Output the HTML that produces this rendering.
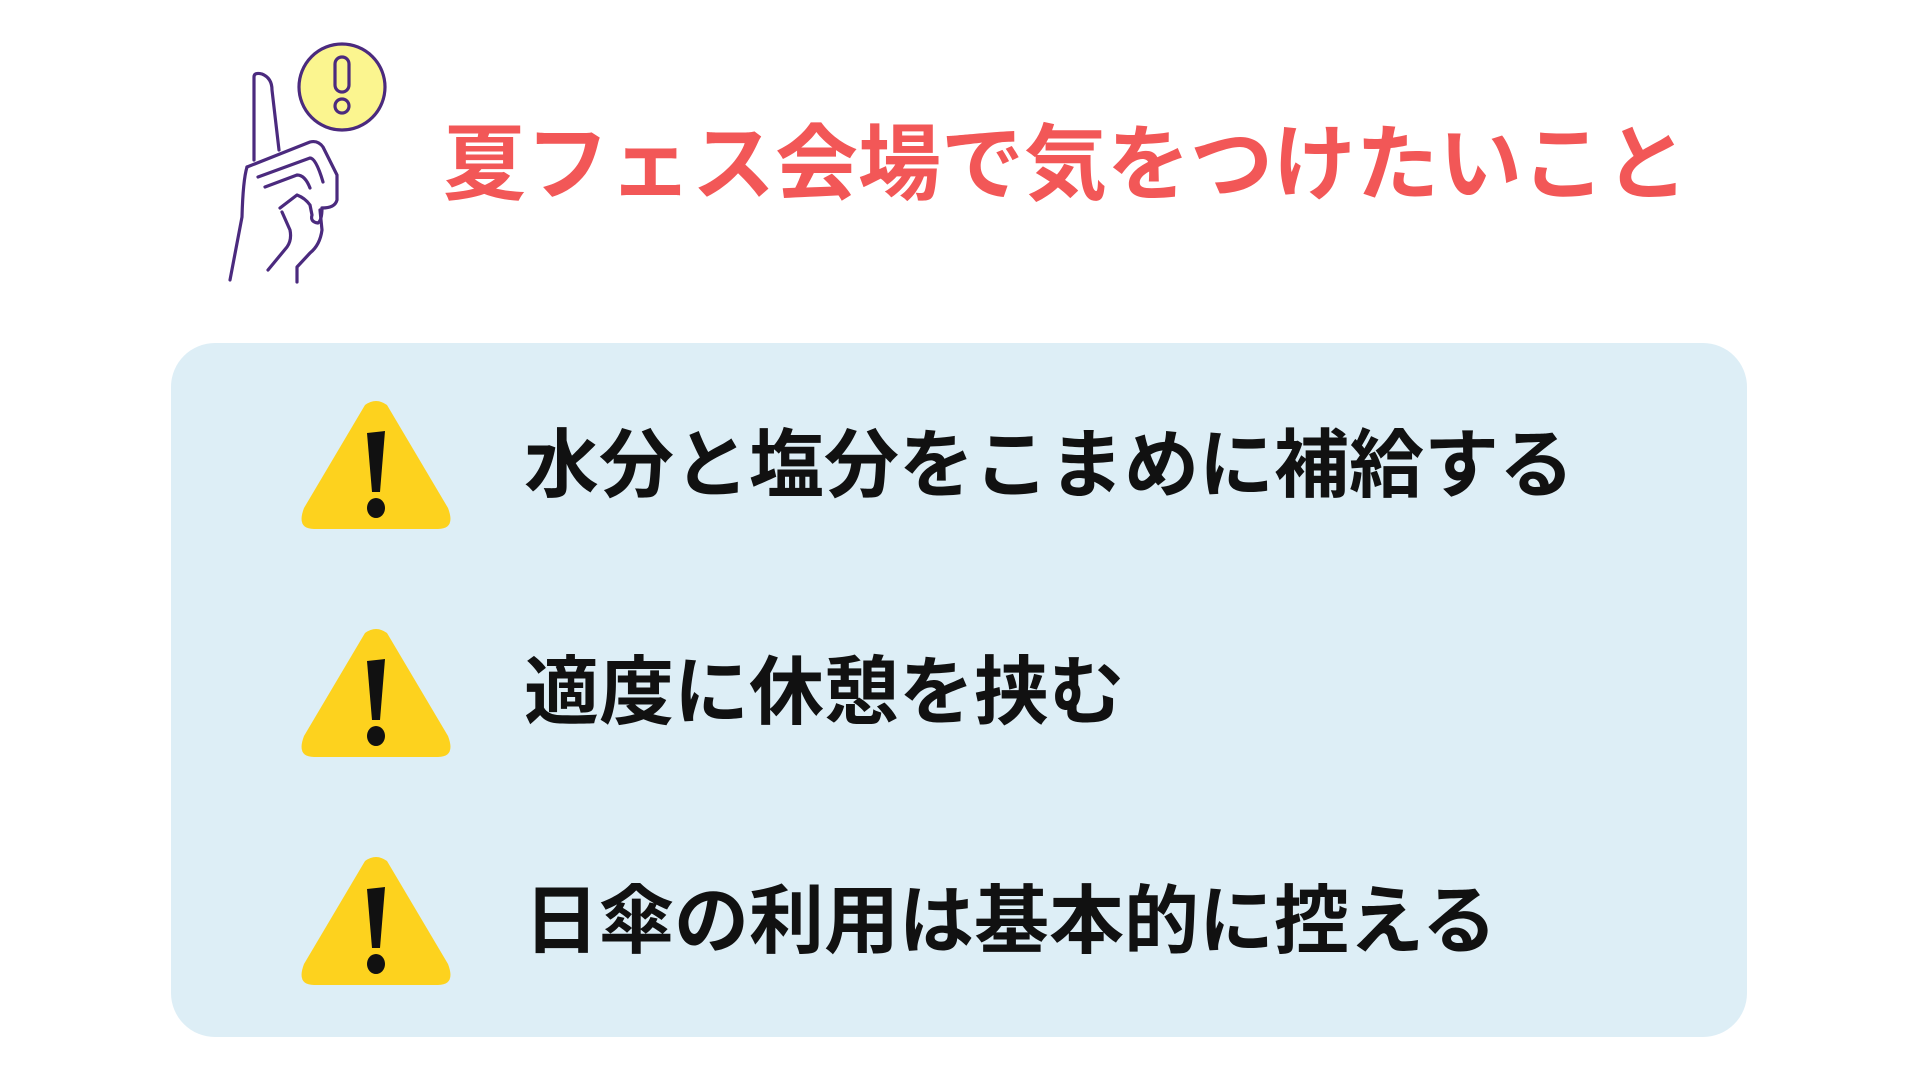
<!DOCTYPE html>
<html><head><meta charset="utf-8"><style>
html,body{margin:0;padding:0;width:1920px;height:1080px;background:#fff;overflow:hidden;position:relative}
.t{position:absolute;font-family:"Liberation Sans","Noto Sans CJK JP",sans-serif;font-weight:bold;white-space:nowrap;line-height:1}
#title{left:443px;top:123px;font-size:83px;color:#f25757}
#panel{position:absolute;left:171px;top:343px;width:1576px;height:694px;background:#ddeef6;border-radius:44px}
.it{font-size:75px;color:#111;left:524px}
svg{position:absolute;left:0;top:0}
</style></head><body>
<div id="panel"></div>
<svg width="1920" height="1080">
<g fill="none" stroke="#4b2a7e" stroke-width="3.2" stroke-linecap="round" stroke-linejoin="round">
<circle cx="342" cy="87" r="43" fill="#fbf58f"/>
<rect x="335" y="57" width="14" height="35" rx="7"/>
<circle cx="342" cy="106" r="7"/>
<path d="M254,160 L254,77 Q254,72 262,74 Q272,78 272,90 L279,150"/>
<path d="M247,167 L310,142 Q318,140 323,147 L337,175 L337,200 Q335,208 322,208"/>
<path d="M247,167 Q243,180 242,217 L230,280"/>
<path d="M258,177 L310,158 Q316,158 323,182"/>
<path d="M265,187 L297,175 Q305,175 310,188"/>
<path d="M280,208 L297,195 Q305,198 310,205 L312,215 Q310,222 318,223 Q322,220 322,208"/>
<path d="M282,212 L290,230 Q292,240 287,247 L268,270"/>
<path d="M320,210 L322,230 Q320,245 310,253 L297,267 L297,282"/>
</g>
<g id="tri">
<path d="M365,405 Q376,397 387,405 L448,508 Q456,529 438,529 L314,529 Q296,529 304,508 Z" fill="#fdd21e"/>
<path d="M367,433 L385,431 L380,492 L372,492 Z" fill="#111"/>
<ellipse cx="376" cy="508" rx="9" ry="10" fill="#111"/>
</g>
<use href="#tri" y="228"/>
<use href="#tri" y="456"/>
</svg>
<div class="t" id="title">夏フェス会場で気をつけたいこと</div>
<div class="t it" style="top:428px">水分と塩分をこまめに補給する</div>
<div class="t it" style="top:655px">適度に休憩を挟む</div>
<div class="t it" style="top:884px">日傘の利用は基本的に控える</div>
</body></html>
